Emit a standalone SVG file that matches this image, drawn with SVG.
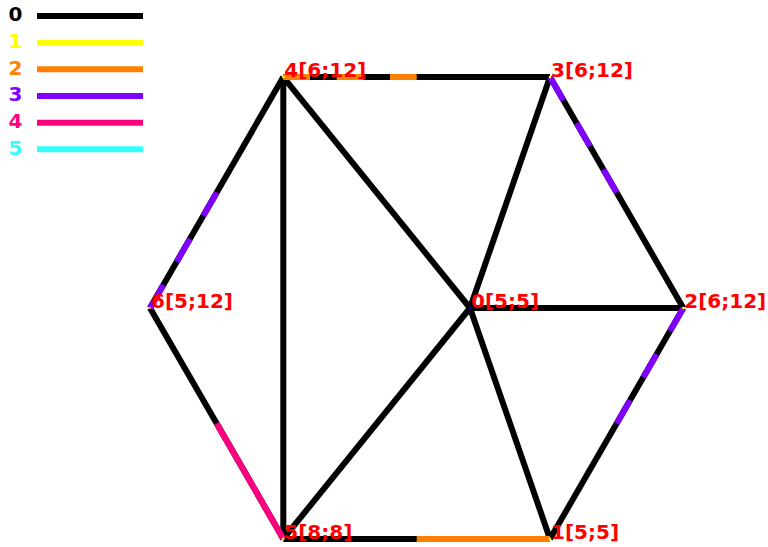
<svg xmlns="http://www.w3.org/2000/svg" width="768" height="547" viewBox="0 0 768 547">
<style>
.e{stroke:#000;stroke-width:6;fill:none;stroke-linecap:butt}
.c{stroke-width:6;fill:none;stroke-linecap:butt}
.lg{font-family:"DejaVu Sans",sans-serif;font-weight:bold;font-size:20px}
.nl{font-family:"DejaVu Sans",sans-serif;font-weight:bold;font-size:20px;fill:#ff0000}
</style>
<rect width="768" height="547" fill="#fff"/>
<g id="legend">
<text class="lg" x="8.5" y="21.3" fill="#000">0</text>
<line x1="37" y1="16" x2="143" y2="16" stroke="#000" stroke-width="6"/>
<text class="lg" x="8.5" y="48" fill="#ffff00">1</text>
<line x1="37" y1="42.7" x2="143" y2="42.7" stroke="#ffff00" stroke-width="6"/>
<text class="lg" x="8.5" y="74.6" fill="#ff8000">2</text>
<line x1="37" y1="69.3" x2="143" y2="69.3" stroke="#ff8000" stroke-width="6"/>
<text class="lg" x="8.5" y="101.3" fill="#8000ff">3</text>
<line x1="37" y1="96" x2="143" y2="96" stroke="#8000ff" stroke-width="6"/>
<text class="lg" x="8.5" y="128" fill="#ff0080">4</text>
<line x1="37" y1="122.7" x2="143" y2="122.7" stroke="#ff0080" stroke-width="6"/>
<text class="lg" x="8.5" y="154.6" fill="#33ffff">5</text>
<line x1="37" y1="149.3" x2="143" y2="149.3" stroke="#33ffff" stroke-width="6"/>
</g>
<g id="connectors">
<line class="e" x1="283.3" y1="77.1" x2="550" y2="77.1"/>
<line class="e" x1="550" y1="77.1" x2="683.3" y2="308"/>
<line class="e" x1="683.3" y1="308" x2="550" y2="538.9"/>
<line class="e" x1="550" y1="538.9" x2="283.3" y2="538.9"/>
<line class="e" x1="283.3" y1="538.9" x2="150" y2="308"/>
<line class="e" x1="150" y1="308" x2="283.3" y2="77.1"/>
<line class="e" x1="283.3" y1="77.1" x2="283.3" y2="538.9"/>
<line class="e" x1="283.3" y1="77.1" x2="470" y2="308"/>
<line class="e" x1="470" y1="308" x2="550" y2="77.1"/>
<line class="e" x1="470" y1="308" x2="683.3" y2="308"/>
<line class="e" x1="470" y1="308" x2="550" y2="538.9"/>
<line class="e" x1="470" y1="308" x2="283.3" y2="538.9"/>
<path class="c" stroke="#ff8000" d="M283.3 77.1H310M336.7 77.1H363.3M390 77.1H416.7M416.7 538.9H550"/>
<path class="c" stroke="#8000ff" d="M150 308L163.33 284.91M176.67 261.82L190 238.73M203.33 215.64L216.67 192.55M550 77.1L563.33 100.19M576.67 123.28L590 146.37M603.33 169.46L616.67 192.55M683.33 308L670 331.09M656.67 354.18L643.33 377.27M630 400.36L616.67 423.45"/>
<path class="c" stroke="#ff0080" d="M216.67 423.45L283.33 538.9"/>
</g>
<g id="node0"><circle cx="470" cy="308" r="1.3" fill="#0000ff"/><text class="nl" x="471" y="308">0[5;5]</text></g>
<g id="node1"><circle cx="550" cy="538.9" r="1.3" fill="#ffff00"/><text class="nl" x="551" y="538.9">1[5;5]</text></g>
<g id="node2"><circle cx="683.3" cy="308" r="1.3" fill="#ffff00"/><text class="nl" x="684.3" y="308">2[6;12]</text></g>
<g id="node3"><circle cx="550" cy="77.1" r="1.3" fill="#ffff00"/><text class="nl" x="551" y="77.1">3[6;12]</text></g>
<g id="node4"><circle cx="283.3" cy="77.1" r="1.3" fill="#ffff00"/><text class="nl" x="284.3" y="77.1">4[6;12]</text></g>
<g id="node5"><circle cx="283.3" cy="538.9" r="1.3" fill="#ffff00"/><text class="nl" x="284.3" y="538.9">5[8;8]</text></g>
<g id="node6"><circle cx="150" cy="308" r="1.3" fill="#ff8000"/><text class="nl" x="151" y="308">6[5;12]</text></g>
</svg>
